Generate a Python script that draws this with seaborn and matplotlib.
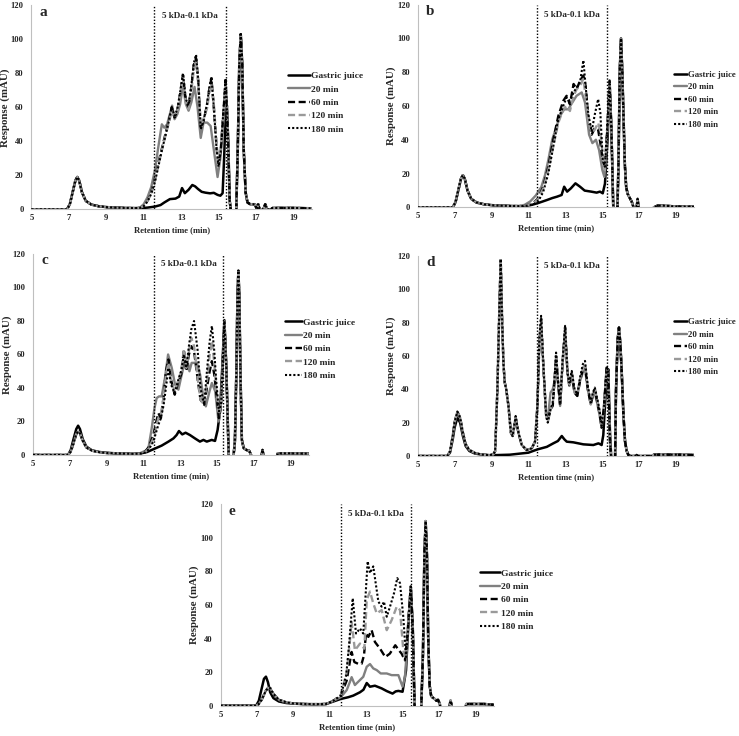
import matplotlib
matplotlib.use("Agg")
import matplotlib.pyplot as plt
import seaborn as sns
import pandas as pd

sns.set_style("white")
plt.rcParams['font.family'] = ['Liberation Serif', 'DejaVu Serif']
plt.rcParams['font.weight'] = 'bold'
plt.rcParams['axes.labelweight'] = 'bold'

labels = ["Gastric juice", "20 min", "60 min", "120 min", "180 min"]
x_ticks = [5, 7, 9, 11, 13, 15, 17, 19]
y_ticks = [0, 20, 40, 60, 80, 100, 120]

# ---------------- Panel a ----------------
a_early_t = [5, 6.9, 7.05, 7.2, 7.35, 7.45, 7.55, 7.7, 7.9, 8.2, 8.6, 9.0, 9.5, 10.0, 10.5]
a_early_y = [0, 0, 3, 10, 17, 19, 17, 10, 5, 2.8, 1.8, 1.3, 1.0, 0.8, 0.7]
a_gj_t = [10.8, 11.2, 11.6, 11.9, 12.1, 12.4, 12.7, 12.9, 13.05, 13.2, 13.4, 13.6, 13.75, 13.9,
          14.1, 14.3, 14.55, 14.75, 14.95, 15.1, 15.22, 15.3, 15.38, 15.45, 15.52, 15.6]
a_gj_y = [0.7, 1.0, 1.6, 2.5, 4, 6, 6.3, 7.5, 12.5, 9.5, 11.5, 14.3, 13.5, 12,
          10.3, 9.8, 9.4, 9.7, 8.5, 8, 9.5, 30, 55, 61, 40, 5]
a_20_t = [10.8, 11.0, 11.2, 11.4, 11.6, 11.8, 11.97, 12.1, 12.25, 12.4, 12.52, 12.65, 12.8, 12.95, 13.1,
          13.25, 13.4, 13.55, 13.72, 13.88, 14.05, 14.2, 14.4, 14.58, 14.75, 14.95, 15.1, 15.24, 15.38, 15.5, 15.6]
a_20_y = [1, 3, 7, 13, 23, 38, 50, 48, 50, 56, 61, 53, 56, 62, 73,
          62, 58, 63, 72, 60, 42, 51, 51, 49, 35, 19, 30, 48, 74, 45, 5]
a_hi_t = [10.8, 11.0, 11.2, 11.4, 11.6, 11.8, 12.0, 12.2, 12.35, 12.5, 12.65, 12.8, 12.95, 13.1, 13.25,
          13.4, 13.55, 13.68, 13.8, 13.92, 14.05, 14.2, 14.4, 14.5, 14.62, 14.75, 14.9, 15.0, 15.12, 15.25,
          15.38, 15.5, 15.6]
a_60_y = [0.8, 2, 5, 10, 18, 28, 37, 46, 52, 60, 54, 58, 68, 79, 64,
          60, 72, 85, 89, 75, 48, 52, 62, 70, 77, 60, 36, 27, 35, 55, 76, 45, 5]
a_120_y = [0.8, 2, 5, 9, 17, 27, 36, 45, 51, 58, 55, 57, 67, 77, 63,
           59, 70, 82, 87, 74, 49, 53, 60, 68, 74, 62, 38, 28, 36, 54, 75, 45, 5]
a_180_y = [0.8, 1.8, 4.5, 9, 16, 26, 36, 45, 52, 60, 55, 59, 69, 80, 65,
           61, 73, 86, 91, 76, 47, 52, 63, 71, 78, 60, 35, 25, 34, 56, 77, 45, 5]
a_post_t = [15.65, 15.72, 15.88, 15.95, 16.03, 16.11, 16.19, 16.27, 16.35, 16.45, 16.55, 16.7,
            16.95, 17.05, 17.12, 17.2, 17.4, 17.5, 17.6, 17.8, 17.9, 19.0, 20.0]
a_post_y = [0, -10, -10, 0, 35, 85, 103, 85, 35, 10, 4, 3,
            3, 0, 3, 0, 0, 3, 0, 0, 0.8, 0.8, 0.6]

# ---------------- Panel b ----------------
b_early_t = [5, 6.9, 7.05, 7.2, 7.35, 7.45, 7.55, 7.7, 7.9, 8.2, 8.6, 9.0, 9.5, 10.0, 10.5]
b_early_y = [0, 0, 3, 10, 17, 19, 17, 10, 5, 2.8, 1.8, 1.3, 1.0, 0.8, 0.7]
b_gj_t = [10.8, 11.2, 11.6, 12.0, 12.3, 12.55, 12.8, 12.94, 13.1, 13.3, 13.55, 13.8, 14.05, 14.4, 14.7,
          14.88, 15.03, 15.15, 15.3, 15.4, 15.5, 15.6]
b_gj_y = [0.8, 1.5, 2.8, 4.3, 5.5, 6.3, 7.3, 12.2, 9.3, 11.2, 14.2, 12.2, 9.9, 9.3, 8.7,
          9.3, 8.3, 14, 42, 75, 46, 0]
b_20_t = [10.8, 11.1, 11.4, 11.7, 11.9, 12.08, 12.29, 12.47, 12.71, 12.94, 13.16, 13.38, 13.61, 13.89, 14.07,
          14.29, 14.47, 14.66, 14.83, 15.01, 15.12, 15.24, 15.4, 15.5, 15.6]
b_20_y = [1.5, 3.5, 7, 12, 19, 28, 40, 46, 54, 58, 58, 62, 66, 68, 62,
          43, 38, 40, 34, 22, 18, 36, 71, 46, 0]
b_hi_t = [10.8, 11.2, 11.5, 11.8, 12.08, 12.35, 12.62, 12.89, 13.07, 13.25, 13.45, 13.62, 13.8, 13.98, 14.1,
          14.25, 14.43, 14.6, 14.78, 14.9, 15.03, 15.15, 15.3, 15.4, 15.5, 15.6]
b_60_y = [1, 2, 5, 12, 24, 40, 54, 63, 66, 61, 73, 70, 75, 78, 72,
          52, 43, 47, 46, 38, 28, 24, 52, 75, 46, 0]
b_120_y = [1, 2, 4.5, 11, 22, 36, 50, 58, 60, 57, 66, 70, 72, 76, 66,
           50, 44, 46, 50, 45, 30, 22, 50, 74, 46, 0]
b_180_y = [0.8, 1.5, 3, 9, 20, 36, 52, 60, 65, 63, 68, 71, 74, 87, 72,
           55, 45, 55, 64, 56, 28, 24, 52, 73, 46, 0]
b_post_t = [15.68, 15.75, 15.83, 15.89, 15.95, 16.02, 16.09, 16.16, 16.23, 16.3, 16.38, 16.47, 16.6,
            16.7, 16.78, 16.87, 16.92, 16.97, 17.05, 17.7, 17.8, 18.0, 18.3, 19.0, 20.0]
b_post_y = [-10, -10, 0, 30, 80, 100, 80, 52, 25, 12, 8, 6, 3.4,
            0, -3, 0, 5, 0, -3, -3, 0, 1, 1, 0.5, 0.3]

# ---------------- Panel c ----------------
c_early_t = [5, 6.9, 7.05, 7.2, 7.35, 7.45, 7.55, 7.7, 7.9, 8.2, 8.6, 9.0, 9.5, 10.0, 10.5]
c_early_gj = [0, 0, 3, 9.5, 15.5, 17.5, 15.5, 9.5, 5, 2.8, 1.8, 1.3, 1.0, 0.8, 0.7]
c_early_o = [0, 0, 2, 7, 12.5, 14, 13, 8.5, 4.5, 2.6, 1.7, 1.2, 1.0, 0.8, 0.7]
c_gj_t = [10.8, 11.2, 11.45, 11.99, 12.36, 12.63, 12.8, 12.93, 13.11, 13.29, 13.53, 13.8, 14.07, 14.26,
          14.44, 14.71, 14.89, 15.03, 15.16, 15.29, 15.4, 15.5, 15.62]
c_gj_y = [0.8, 1.8, 3, 5.6, 8, 9.9, 11.9, 14.3, 12.3, 13.3, 11.9, 9.9, 8, 9,
          8, 9, 8.4, 14.9, 25.9, 53.7, 80.5, 53.7, 5]
c_20_t = [10.8, 11.1, 11.27, 11.45, 11.6, 11.72, 11.85, 11.99, 12.17, 12.34, 12.54, 12.72, 12.9, 13.08, 13.26,
          13.39, 13.5, 13.62, 13.9, 14.08, 14.26, 14.39, 14.59, 14.72, 14.9, 15.08, 15.2, 15.3, 15.4, 15.5, 15.62]
c_20_y = [1, 2.5, 4, 16, 28, 34, 35, 35, 46, 60, 52, 42, 39, 48, 56,
          57, 50, 55, 55, 48, 34, 29, 38, 43, 38, 20, 28, 53, 80, 53, 5]
c_hi_t = [10.8, 11.1, 11.3, 11.54, 11.7, 11.81, 11.95, 12.1, 12.22, 12.36, 12.5, 12.7, 12.9, 13.05, 13.2,
          13.33, 13.47, 13.6, 13.75, 13.95, 14.1, 14.3, 14.45, 14.6, 14.72, 14.85, 14.95, 15.1, 15.22, 15.3,
          15.4, 15.5, 15.62]
c_60_y = [0.8, 2, 5, 12, 20, 25, 22, 35, 50, 57, 45, 36, 44, 48, 63,
          50, 60, 65, 62, 45, 33, 30, 40, 50, 56, 48, 38, 22, 30, 53, 80, 53, 5]
c_120_y = [0.8, 1.8, 4, 10, 17, 22, 24, 35, 48, 55, 44, 38, 45, 50, 63,
           52, 62, 70, 65, 46, 33, 30, 44, 60, 68, 55, 40, 24, 30, 53, 80, 53, 5]
c_180_y = [0.8, 1.5, 3.5, 8, 14, 18, 22, 30, 40, 52, 42, 37, 45, 50, 60,
           52, 65, 75, 80, 62, 40, 30, 50, 68, 77, 62, 45, 26, 30, 53, 80, 53, 5]
c_post_t = [15.68, 15.75, 15.9, 15.97, 16.05, 16.11, 16.16, 16.21, 16.27, 16.35, 16.45, 16.6,
            16.75, 16.85, 16.9, 17.35, 17.42, 17.47, 17.52, 17.58, 18.2, 18.3, 19.0, 20.0]
c_post_y = [-10, -10, 0, 8, 50, 95, 110, 95, 50, 9, 4, 3,
            2.5, 0, -3, -3, 0, 3, 0, -3, -3, 1, 1, 0.8]

# ---------------- Panel d ----------------
d_early_t = [5, 6.6, 6.75, 6.9, 7.0, 7.15, 7.3, 7.45, 7.6, 7.8, 8.1, 8.5, 8.9]
d_early_gj = [0, 0, 2, 10, 17, 23, 20, 12, 6, 3, 1.5, 0.8, 0.5]
d_early_o = [0, 0, 2.6, 12, 20, 26.5, 23, 14, 7, 3.6, 1.8, 0.8, 0.5]
d_gj_t = [9.1, 10.0, 11.0, 11.5, 12.0, 12.35, 12.6, 12.81, 12.95, 13.08, 13.44, 13.98, 14.52, 14.8,
          14.97, 15.06, 15.15, 15.25, 15.33, 15.42, 15.5]
d_gj_y = [0.5, 0.8, 2, 4, 5.5, 7.6, 9, 12, 10, 8.6, 8.2, 7, 6.6, 7.6,
          6.6, 12.6, 30, 48, 52, 15, -3]
d_hi_t = [9.1, 9.2, 9.32, 9.43, 9.5, 9.58, 9.65, 9.72, 9.8, 9.92, 10.05, 10.15, 10.31, 10.46, 10.64,
          10.91, 11.18, 11.36, 11.49, 11.6, 11.69, 11.81, 11.96, 12.05, 12.2, 12.32, 12.42, 12.5, 12.6, 12.72,
          12.85, 12.99, 13.12, 13.22, 13.35, 13.5, 13.65, 13.8, 13.95, 14.07, 14.22, 14.38, 14.5, 14.6, 14.72,
          14.85, 14.97, 15.1, 15.24, 15.33, 15.42, 15.5]
d_20_y = [1, 3, 40, 90, 117, 80, 55, 44, 40, 30, 14, 12, 23, 14, 6.6,
          3.6, 4.6, 8.6, 30, 70, 80, 54, 25, 22, 38, 40, 45, 57, 45, 30,
          55, 75, 50, 42, 48, 38, 36, 45, 50, 52, 40, 31, 36, 38, 32,
          25, 17, 30, 52, 50, 9, -3]
d_60_y = [1, 3, 40, 90, 118, 80, 55, 44, 40, 30, 14, 12, 23, 14, 6.6,
          3.6, 4.6, 8.6, 30, 70, 82, 54, 25, 21, 28, 30, 45, 60, 45, 30,
          55, 77, 50, 42, 50, 38, 36, 45, 52, 54, 40, 31, 37, 40, 33,
          26, 17, 30, 53, 50, 9, -3]
d_120_y = [1, 3, 40, 90, 118, 80, 55, 44, 40, 30, 14, 12, 23, 14, 6.6,
           3.6, 4.6, 8.6, 30, 70, 82, 54, 24, 20, 28, 31, 46, 60, 46, 31,
           56, 77, 50, 43, 50, 39, 37, 46, 53, 55, 41, 31, 38, 40, 34,
           27, 18, 30, 53, 50, 9, -3]
d_180_y = [1, 3, 40, 90, 118, 80, 55, 44, 40, 30, 14, 12, 24, 14, 6.6,
           3.6, 4.6, 8.6, 30, 72, 84, 55, 24, 20, 28, 32, 47, 62, 46, 31,
           57, 78, 50, 44, 51, 40, 37, 47, 55, 57, 42, 32, 38, 41, 35,
           28, 18, 30, 54, 50, 9, -3]
d_post_t = [15.58, 15.65, 15.7, 15.75, 15.84, 15.91, 15.98, 16.06, 16.15, 16.24,
            16.33, 16.42, 16.55, 16.82, 16.87, 16.92, 17.7, 17.8, 19.0, 20.0]
d_post_y = [-10, -10, 0, 40, 70, 77, 68, 50, 25, 8.6,
            3, 0.6, 0, 0, 0.6, 0, 0, 0.8, 0.8, 0.6]

# ---------------- Panel e ----------------
e_early_t = [5, 6.95, 7.1, 7.25, 7.38, 7.49, 7.6, 7.72, 7.9, 8.2, 8.6, 9.0, 9.5, 10.0, 10.5]
e_early_gj = [0, 0, 3, 10, 16, 17.3, 14, 8, 4.5, 2.5, 1.6, 1.2, 1.0, 0.9, 0.9]
e_early_o = [0, 0, 1, 3.5, 6.5, 9, 10.5, 10.5, 7, 3.5, 2, 1.3, 1.0, 0.9, 0.9]
e_gj_t = [10.8, 11.2, 11.6, 12.0, 12.29, 12.66, 12.85, 13.03, 13.21, 13.48, 13.85, 14.13, 14.45, 14.62,
          14.77, 15.0, 15.19, 15.33, 15.45, 15.56, 15.66]
e_gj_y = [1, 2.5, 4, 5, 6, 8, 9.5, 13.5, 11.3, 11.9, 10.3, 8.7, 7.2, 8.5,
          8.8, 8.3, 21, 51, 71, 47, 0]
e_20_t = [10.8, 11.2, 11.6, 11.93, 12.1, 12.2, 12.38, 12.66, 12.84, 13.03, 13.21, 13.39, 13.58, 13.8,
          14.13, 14.4, 14.77, 15.0, 15.13, 15.25, 15.35, 15.45, 15.56, 15.66]
e_20_y = [1, 3, 5, 9.3, 14, 17, 12.3, 15.3, 17.2, 23.2, 24.8, 22.2, 21.2, 19.2,
          19.2, 18.2, 18.2, 11.3, 17, 35, 55, 71, 47, 0]
e_60_t = [10.8, 11.2, 11.6, 11.93, 12.1, 12.2, 12.35, 12.55, 12.75, 12.88, 12.99, 13.12, 13.3, 13.48,
          13.76, 14.05, 14.3, 14.6, 14.8, 14.95, 15.13, 15.25, 15.35, 15.45, 15.56, 15.66]
e_60_y = [1, 3, 6, 15, 26, 32, 26, 25, 25, 30, 43, 41, 45, 38,
          34, 29, 31, 36, 33, 31, 27, 40, 55, 71, 47, 0]
e_120_t = [10.8, 11.2, 11.6, 11.93, 12.1, 12.2, 12.38, 12.66, 12.9, 13.03, 13.21, 13.39, 13.58, 13.85,
           14.13, 14.4, 14.68, 14.86, 15.04, 15.15, 15.25, 15.35, 15.45, 15.56, 15.66]
e_120_y = [1, 3, 6, 20, 38, 50, 33, 37, 34, 63, 68, 61, 55, 57,
           45, 51, 59, 57, 33, 28, 40, 55, 71, 47, 0]
e_180_t = [10.8, 11.2, 11.6, 11.9, 12.05, 12.26, 12.44, 12.66, 12.84, 13.08, 13.21, 13.39, 13.67, 13.85,
           13.98, 14.13, 14.31, 14.53, 14.71, 14.86, 15.04, 15.19, 15.3, 15.38, 15.45, 15.56, 15.66]
e_180_y = [1, 3, 6, 18, 35, 64, 43, 46, 43, 86, 79, 83, 62, 59,
           62, 53, 59, 67, 76, 73, 53, 29, 45, 60, 71, 47, 0]
e_post_t = [15.78, 15.88, 16.03, 16.12, 16.2, 16.27, 16.34, 16.41, 16.49, 16.57, 16.64, 16.76,
            16.86, 16.95, 17.05, 17.1, 17.5, 17.58, 17.64, 17.7, 17.76, 18.45, 18.5, 19.5, 20.0]
e_post_y = [-10, -10, 0, 30, 90, 110, 90, 40, 12, 6, 5, 4,
            3, 3.5, 1, -3, -3, 0, 3, 0, -3, -3, 1, 1, 0.5]

styles = {
    "Gastric juice": dict(color="black", linestyle="-", linewidth=1.8),
    "20 min": dict(color="#808080", linestyle="-", linewidth=1.7),
    "60 min": dict(color="black", linestyle=(0, (3, 1.5)), linewidth=1.7),
    "120 min": dict(color="#9a9a9a", linestyle=(0, (3, 1.5)), linewidth=1.7),
    "180 min": dict(color="black", linestyle=(0, (1, 1)), linewidth=1.5),
}


def build(early_gj, early_o, early_t, gj, s20, s60, s120, s180, post_t, post_y):
    rows = []
    parts = [(labels[0], early_t, early_gj, gj), (labels[1], early_t, early_o, s20),
             (labels[2], early_t, early_o, s60), (labels[3], early_t, early_o, s120),
             (labels[4], early_t, early_o, s180)]
    for lab, et, ey, (mt, my) in parts:
        ts = list(et) + list(mt) + list(post_t)
        ys = list(ey) + list(my) + list(post_y)
        assert len(ts) == len(ys), lab
        rows.append(pd.DataFrame({"t": ts, "y": ys, "series": lab}))
    return pd.concat(rows, ignore_index=True)


panels = [
    dict(letter="a", rect=[0.0426, 0.7156, 0.3796, 0.2772], vl=(11.56, 15.39),
         leg=(0.3897, 0.9026), hl=2.3, fs=6.8,
         data=build(a_early_y, a_early_y, a_early_t, (a_gj_t, a_gj_y), (a_20_t, a_20_y),
                    (a_hi_t, a_60_y), (a_hi_t, a_120_y), (a_hi_t, a_180_y), a_post_t, a_post_y)),
    dict(letter="b", rect=[0.5652, 0.7183, 0.3745, 0.2755], vl=(11.48, 15.28),
         leg=(0.9120, 0.9039), hl=1.45, fs=6.3,
         data=build(b_early_y, b_early_y, b_early_t, (b_gj_t, b_gj_y), (b_20_t, b_20_y),
                    (b_hi_t, b_60_y), (b_hi_t, b_120_y), (b_hi_t, b_180_y), b_post_t, b_post_y)),
    dict(letter="c", rect=[0.0447, 0.3818, 0.3735, 0.2731], vl=(11.6, 15.34),
         leg=(0.3857, 0.5679), hl=1.8, fs=6.8,
         data=build(c_early_gj, c_early_o, c_early_t, (c_gj_t, c_gj_y), (c_20_t, c_20_y),
                    (c_hi_t, c_60_y), (c_hi_t, c_120_y), (c_hi_t, c_180_y), c_post_t, c_post_y)),
    dict(letter="d", rect=[0.5652, 0.3804, 0.3745, 0.2721], vl=(11.45, 15.28),
         leg=(0.9120, 0.5679), hl=1.45, fs=6.3,
         data=build(d_early_gj, d_early_o, d_early_t, (d_gj_t, d_gj_y), (d_hi_t, d_20_y),
                    (d_hi_t, d_60_y), (d_hi_t, d_120_y), (d_hi_t, d_180_y), d_post_t, d_post_y)),
    dict(letter="e", rect=[0.2986, 0.0412, 0.3692, 0.2736], vl=(11.63, 15.48),
         leg=(0.6495, 0.2269), hl=2.1, fs=6.8,
         data=build(e_early_gj, e_early_o, e_early_t, (e_gj_t, e_gj_y), (e_20_t, e_20_y),
                    (e_60_t, e_60_y), (e_120_t, e_120_y), (e_180_t, e_180_y), e_post_t, e_post_y)),
]

fig = plt.figure(figsize=(7.39, 7.36), dpi=100)

for p in panels:
    ax = fig.add_axes(p["rect"])
    df = p["data"]
    for lab in labels:
        sub = df[df["series"] == lab]
        sns.lineplot(data=sub, x="t", y="y", ax=ax, estimator=None, sort=False,
                     label=lab, legend=False, **styles[lab])
    handles = list(ax.get_lines())[:5]
    for xv in p["vl"]:
        ax.axvline(xv, color="black", linestyle=(0, (1, 1.3)), linewidth=1.0, zorder=3)
    ax.set_xlim(5, 20)
    ax.set_ylim(0, 120)
    ax.set_xticks(x_ticks)
    ax.set_yticks(y_ticks)
    ax.tick_params(axis="both", length=0)
    ax.tick_params(axis="x", labelsize=6.2, pad=3.5)
    ax.tick_params(axis="y", labelsize=6.2, pad=5.5)
    for lbl in ax.get_xticklabels() + ax.get_yticklabels():
        lbl.set_fontweight("bold")
    sns.despine(ax=ax)
    for side in ("left", "bottom"):
        ax.spines[side].set_color("#bfbfbf")
        ax.spines[side].set_linewidth(0.8)
        ax.spines[side].set_zorder(0.5)
    ax.set_xlabel("Retention time (min)", fontsize=6.2, fontweight="bold", labelpad=3)
    ax.set_ylabel("Response (mAU)", fontsize=7.8, fontweight="bold", labelpad=0.5)
    ax.text(5.45, 116, p["letter"], fontsize=11, fontweight="bold", ha="left", va="center")
    ax.text((p["vl"][0] + p["vl"][1]) / 2, 114, "5 kDa-0.1 kDa", fontsize=6.6,
            fontweight="bold", ha="center", va="center")
    ax.legend(handles, labels, loc="upper left", bbox_to_anchor=p["leg"],
              bbox_transform=fig.transFigure, frameon=False, borderpad=0, borderaxespad=0,
              handlelength=p["hl"], handletextpad=0.15, labelspacing=0.5,
              prop={"family": "Liberation Serif", "weight": "bold", "size": p["fs"]})

fig.savefig("out.png", dpi=100)
